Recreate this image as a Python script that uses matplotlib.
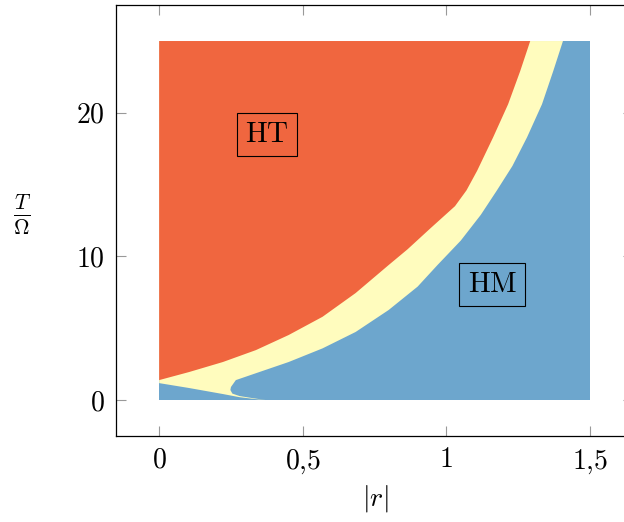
import matplotlib
matplotlib.use('Agg')
import matplotlib.pyplot as plt

plt.rcParams['mathtext.fontset'] = 'cm'
plt.rcParams['font.family'] = 'serif'
plt.rcParams['font.serif'] = ['cmr10', 'DejaVu Serif']
plt.rcParams['axes.formatter.use_mathtext'] = True

# domain of the phase map
r_max = 1.5
T_max = 25

# boundary HT / transition band
red_r = [0.0, 0.104, 0.222, 0.337, 0.451, 0.569, 0.684, 0.799, 0.865, 0.944,
         1.03, 1.07, 1.107, 1.163, 1.215, 1.257, 1.292]
red_T = [1.39, 1.95, 2.65, 3.48, 4.53, 5.8, 7.45, 9.4, 10.5, 11.95,
         13.5, 14.6, 15.96, 18.3, 20.6, 22.9, 25.0]

# boundary transition band / HM, from the tongue tip up and around the nose
blue_r = [0.372, 0.33, 0.28, 0.255, 0.248, 0.25, 0.267, 0.337, 0.451, 0.569,
          0.684, 0.799, 0.90, 0.969, 1.05, 1.12, 1.176, 1.23, 1.281, 1.333, 1.372, 1.406]
blue_T = [0.0, 0.12, 0.28, 0.45, 0.7, 0.91, 1.39, 1.87, 2.65, 3.6,
          4.74, 6.27, 7.9, 9.4, 11.1, 12.9, 14.6, 16.3, 18.3, 20.6, 22.9, 25.0]

# lower edge of the tongue near T = 0
low_r = [0.0, 0.104, 0.222, 0.28, 0.33, 0.372]
low_T = [1.18, 0.84, 0.42, 0.2, 0.08, 0.0]

c_red = '#F0663F'
c_yel = '#FFFCBE'
c_blue = '#6DA6CD'

fig = plt.figure(figsize=(6.24, 5.22), dpi=100)
ax = fig.add_axes([0.186, 0.1648, 0.8285, 0.8254])

# HM background
ax.fill([0, r_max, r_max, 0], [0, 0, T_max, T_max], color=c_blue, lw=0)
# transition band
ax.fill(low_r + blue_r[1:] + [0], low_T + blue_T[1:] + [T_max], color=c_yel, lw=0)
# HT region
ax.fill(red_r + [0], red_T + [T_max], color=c_red, lw=0)

ax.set_xlim(-0.15, 1.65)
ax.set_ylim(-2.5, 27.5)
ax.set_xticks([0, 0.5, 1, 1.5])
ax.set_xticklabels(['$0$', '$0{,}5$', '$1$', '$1{,}5$'])
ax.set_yticks([0, 10, 20])
ax.set_yticklabels(['$0$', '$10$', '$20$'])
ax.tick_params(direction='in', length=7, width=0.8, color='#999999',
               top=True, right=True, labelsize=20, pad=8)
for s in ax.spines.values():
    s.set_linewidth(0.9)

ax.set_xlabel('$|r|$', fontsize=20)
ax.xaxis.set_label_coords(0.501, -0.108)
ax.set_ylabel(r'$\frac{T}{\Omega}$', fontsize=22, rotation=0, va='center', ha='center')
ax.yaxis.set_label_coords(-0.182, 0.513)

box = dict(boxstyle='square,pad=0.28', fc='none', ec='black', lw=0.8)
ax.text(0.375, 18.5, r'$\mathrm{HT}$', fontsize=21, ha='center', va='center', bbox=box)
ax.text(1.16, 8.05, r'$\mathrm{HM}$', fontsize=21, ha='center', va='center', bbox=box)

fig.savefig('out.png', dpi=100)
